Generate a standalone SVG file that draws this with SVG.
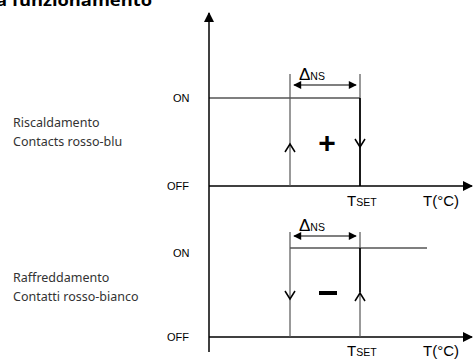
<svg xmlns="http://www.w3.org/2000/svg" width="474" height="359" viewBox="0 0 474 359">
<style>
.ax{stroke:#000;stroke-width:1.5;fill:none}
.ln{stroke:#000;stroke-width:1.2;fill:none}
.gl{stroke:#555;stroke-width:1.2;fill:none}
.th{stroke:#000;stroke-width:1.8;fill:none}
.ch{stroke:#000;stroke-width:1.5;fill:none}
.lb{font-family:"Liberation Sans",Arial,sans-serif;font-size:11px;fill:#000}
.side{font-family:"Noto Sans","DejaVu Sans",sans-serif;font-size:12.5px;fill:#333}
.ax2{font-family:"Liberation Sans",Arial,sans-serif;font-size:15px;fill:#000}
.dl{font-family:"Liberation Sans",Arial,sans-serif;font-size:17px;fill:#000}
.sub{font-size:10.5px}
</style>
<defs>
<marker id="ah" viewBox="0 0 10 10" refX="9" refY="5" markerWidth="10" markerHeight="8" markerUnits="userSpaceOnUse" orient="auto-start-reverse">
<path d="M0,0 L10,5 L0,10 z" fill="#000"/>
</marker>
<marker id="big" viewBox="0 0 10 10" refX="9" refY="5" markerWidth="12" markerHeight="10" markerUnits="userSpaceOnUse" orient="auto">
<path d="M0,0 L10,5 L0,10 z" fill="#000"/>
</marker>
</defs>
<text x="-4" y="6" font-family="'Open Sans',sans-serif" font-weight="bold" font-size="16" textLength="156" lengthAdjust="spacingAndGlyphs">a funzionamento</text>
<g id="connectors">
<line class="ax" x1="209" y1="352" x2="209" y2="13" marker-end="url(#big)"/>
<line class="ax" x1="209" y1="186" x2="472" y2="186" marker-end="url(#big)"/>
<line class="ax" x1="209" y1="337" x2="472" y2="337" marker-end="url(#big)"/>
</g>
<g id="heating">
<line class="ln" x1="209" y1="98" x2="360" y2="98"/>
<line class="gl" x1="290" y1="74" x2="290" y2="186"/>
<line class="gl" x1="360" y1="74" x2="360" y2="98"/>
<line class="th" x1="360" y1="98" x2="360" y2="186"/>
<line class="ln" x1="294" y1="85" x2="356" y2="85" marker-start="url(#ah)" marker-end="url(#ah)"/>
<text class="dl" x="299" y="80">Δ<tspan class="sub">NS</tspan></text>
<polyline class="ch" points="285,152 290,144 295,152"/>
<polyline class="ch" points="355,139 360,147 365,139"/>
<text x="327" y="153" font-family="'Liberation Sans',Arial,sans-serif" font-size="30" font-weight="bold" text-anchor="middle">+</text>
<text class="lb" x="173" y="102">ON</text>
<text class="lb" x="167" y="190">OFF</text>
<text class="side" x="13" y="127">Riscaldamento</text>
<text class="side" x="13" y="146">Contacts rosso-blu</text>
<text class="ax2" x="347" y="206">T<tspan class="sub">SET</tspan></text>
<text class="ax2" x="423" y="206">T(°C)</text>
</g>
<g id="cooling">
<line class="ln" x1="290" y1="248" x2="427" y2="248"/>
<line class="gl" x1="290" y1="232" x2="290" y2="337"/>
<line class="gl" x1="360" y1="232" x2="360" y2="248"/>
<line class="gl" x1="360" y1="292" x2="360" y2="337"/>
<line class="th" x1="360" y1="248" x2="360" y2="292"/>
<line class="ln" x1="294" y1="236" x2="356" y2="236" marker-start="url(#ah)" marker-end="url(#ah)"/>
<text class="dl" x="299" y="231">Δ<tspan class="sub">NS</tspan></text>
<polyline class="ch" points="285,291 290,299 295,291"/>
<polyline class="ch" points="355,301 360,293 365,301"/>
<rect x="319" y="291" width="18" height="4" fill="#000"/>
<text class="lb" x="173" y="257">ON</text>
<text class="lb" x="167" y="341">OFF</text>
<text class="side" x="13" y="282">Raffreddamento</text>
<text class="side" x="13" y="301">Contatti rosso-bianco</text>
<text class="ax2" x="347" y="356">T<tspan class="sub">SET</tspan></text>
<text class="ax2" x="423" y="356">T(°C)</text>
</g>
</svg>
